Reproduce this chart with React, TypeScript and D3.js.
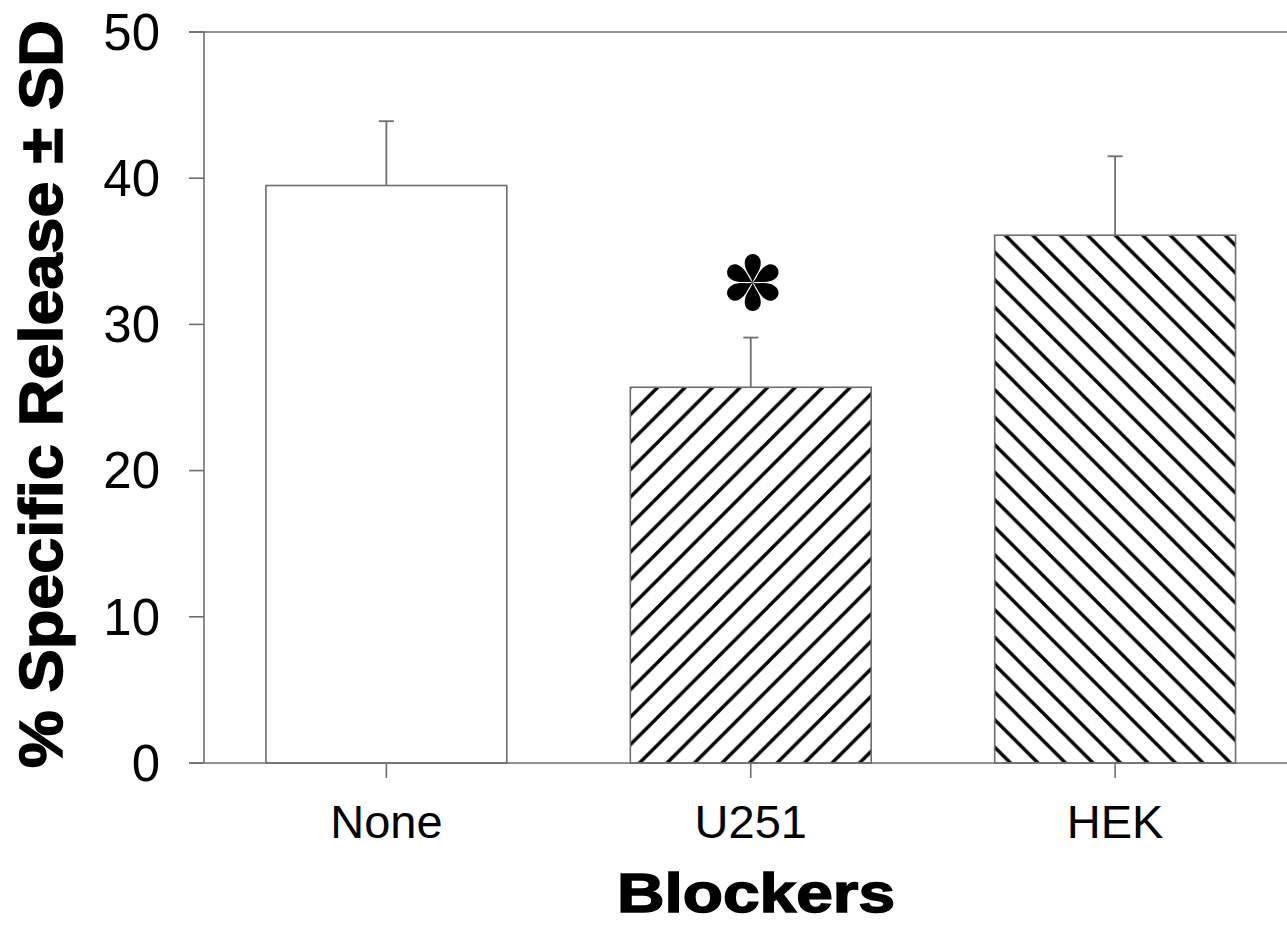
import * as d3 from "d3";

const categories = ["None", "U251", "HEK"];
const means = [39.5, 25.7, 36.1];
const sds = [4.4, 3.4, 5.4];
const fills = ["none", "fwd", "back"];
const significant = [false, true, false];
const yTicks = [0, 10, 20, 30, 40, 50];

const W = 1287;
const H = 929;
const left = 204;
const top = 32;
const bottom = 763;
const rightEnd = 1297.5;

const AXIS = "#6e6e6e";

export default function App() {
  const y = d3.scaleLinear().domain([0, 50]).range([bottom, top]);
  const x = d3
    .scaleBand<string>()
    .domain(categories)
    .range([left, rightEnd])
    .paddingInner(0.339)
    .paddingOuter(0.17);

  const bw = x.bandwidth();
  const cap = 7.5;

  // six teardrop petals for the asterisk, narrow at the centre
  const petal = "M0,0 C-1.5,-6 -8.5,-12 -8,-20.5 A8,8 0 0 1 8,-20.5 C8.5,-12 1.5,-6 0,0 Z";

  return (
    <svg
      width={W}
      height={H}
      style={{ position: "absolute", left: 0, top: 0, background: "#fff" }}
    >
      <defs>
        <pattern id="fwd" patternUnits="userSpaceOnUse" width={27.5} height={27.5}>
          <path
            d="M0,27.5 L27.5,0 M-6,6 L6,-6 M21.5,33.5 L33.5,21.5"
            stroke="#000"
            strokeWidth={3.4}
          />
        </pattern>
        <pattern id="back" patternUnits="userSpaceOnUse" width={27.5} height={27.5}>
          <path
            d="M0,0 L27.5,27.5 M-6,21.5 L6,33.5 M21.5,-6 L33.5,6"
            stroke="#000"
            strokeWidth={3.4}
          />
        </pattern>
      </defs>

      {/* bars */}
      {categories.map((c, i) => (
        <g key={c}>
          <rect
            x={x(c)!}
            y={y(means[i])}
            width={bw}
            height={y(0) - y(means[i])}
            fill={fills[i] === "none" ? "#fff" : `url(#${fills[i]})`}
            stroke={AXIS}
            strokeWidth={1.6}
          />
          <line
            x1={x(c)! + bw / 2}
            x2={x(c)! + bw / 2}
            y1={y(means[i])}
            y2={y(means[i] + sds[i])}
            stroke={AXIS}
            strokeWidth={1.8}
          />
          <line
            x1={x(c)! + bw / 2 - cap}
            x2={x(c)! + bw / 2 + cap}
            y1={y(means[i] + sds[i])}
            y2={y(means[i] + sds[i])}
            stroke={AXIS}
            strokeWidth={1.8}
          />
          {significant[i] && (
            <g transform={`translate(${x(c)! + bw / 2 + 2},${y(means[i] + sds[i]) - 55})`}>
              {[0, 60, 120, 180, 240, 300].map((a) => (
                <path key={a} d={petal} fill="#000" transform={`rotate(${a})`} />
              ))}
            </g>
          )}
        </g>
      ))}

      {/* frame */}
      <line x1={left - 15} x2={W} y1={top} y2={top} stroke={AXIS} strokeWidth={1.6} />
      <line x1={left - 15} x2={W} y1={bottom} y2={bottom} stroke={AXIS} strokeWidth={1.6} />
      <line x1={left} x2={left} y1={top} y2={bottom} stroke={AXIS} strokeWidth={1.6} />
      <line x1={rightEnd} x2={rightEnd} y1={top} y2={bottom} stroke={AXIS} strokeWidth={1.6} />

      {/* y ticks */}
      {yTicks.map((t) => (
        <g key={t}>
          <line x1={left - 15} x2={left} y1={y(t)} y2={y(t)} stroke={AXIS} strokeWidth={1.6} />
          <text
            x={160}
            y={y(t)}
            dy="0.35em"
            textAnchor="end"
            fontFamily="'Liberation Sans', Arial, sans-serif"
            fontSize={51}
            fill="#000"
          >
            {t}
          </text>
        </g>
      ))}

      {/* x ticks */}
      {categories.map((c) => (
        <g key={c}>
          <line
            x1={x(c)! + bw / 2}
            x2={x(c)! + bw / 2}
            y1={bottom}
            y2={bottom + 15}
            stroke={AXIS}
            strokeWidth={1.6}
          />
          <text
            x={x(c)! + bw / 2}
            y={838}
            textAnchor="middle"
            fontFamily="'Liberation Sans', Arial, sans-serif"
            fontSize={47}
            fill="#000"
          >
            {c}
          </text>
        </g>
      ))}

      {/* axis titles */}
      <text
        x={756}
        y={912}
        textAnchor="middle"
        fontFamily="'Liberation Sans', Arial, sans-serif"
        fontWeight="bold"
        fontSize={55}
        textLength={278}
        lengthAdjust="spacingAndGlyphs"
        stroke="#000"
        strokeWidth={1.5}
        fill="#000"
      >
        Blockers
      </text>
      <text
        transform="translate(62,394) rotate(-90)"
        textAnchor="middle"
        fontFamily="'Liberation Sans', Arial, sans-serif"
        fontWeight="bold"
        fontSize={62}
        textLength={748}
        lengthAdjust="spacingAndGlyphs"
        stroke="#000"
        strokeWidth={1.5}
        fill="#000"
      >
        % Specific Release ± SD
      </text>
    </svg>
  );
}
